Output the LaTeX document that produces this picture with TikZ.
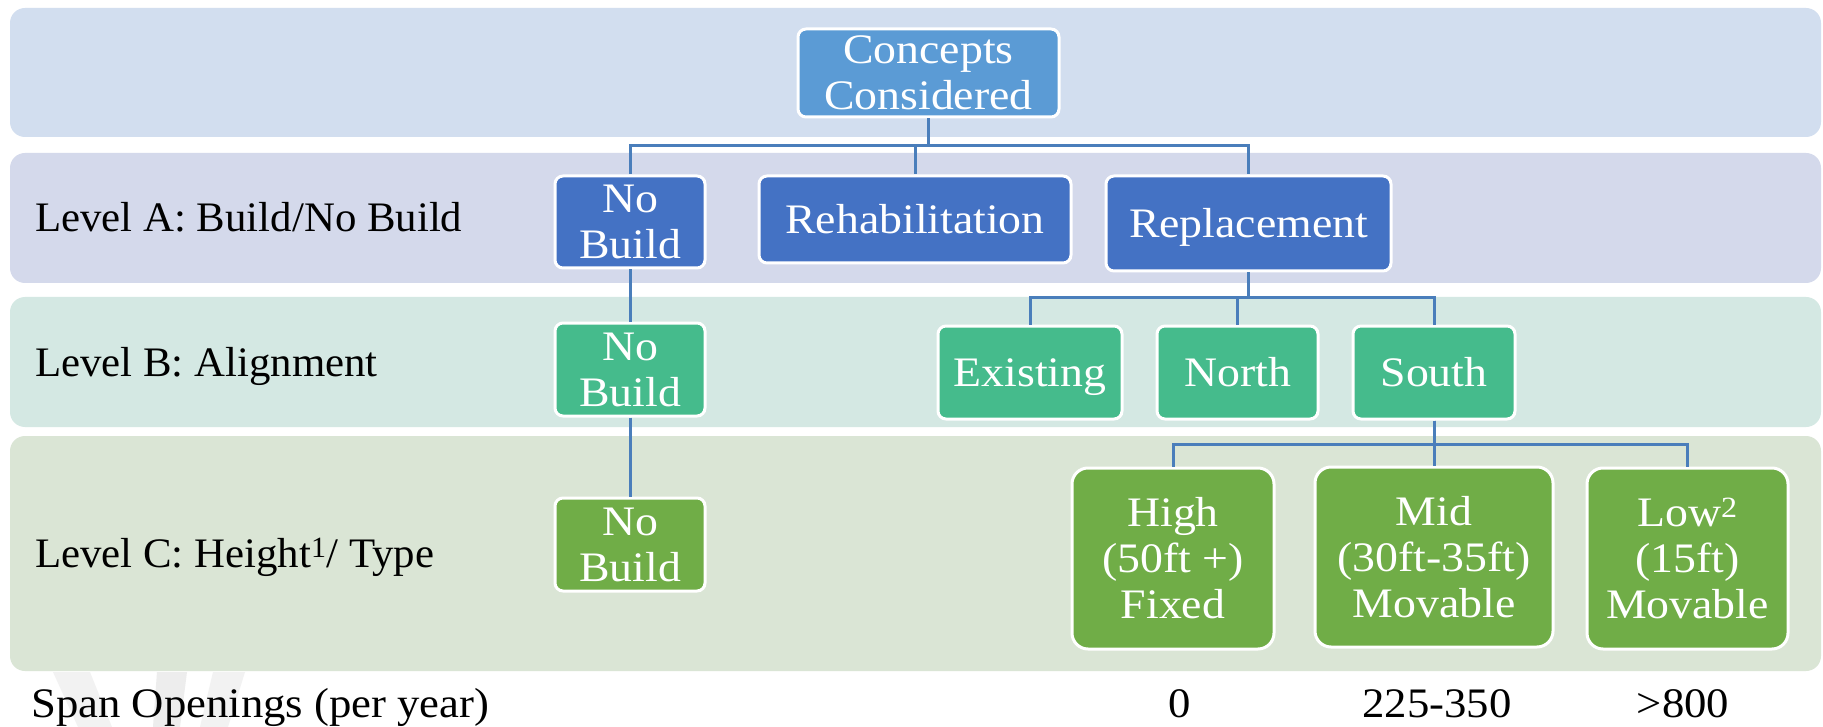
\documentclass[tikz,border=0pt]{standalone}
\usepackage{fontspec}
\setmainfont{Liberation Serif}[FakeStretch=1.09]
\newfontfamily\lvlfont{Liberation Serif}[FakeStretch=1.02]
\newfontfamily\spanfont{Liberation Serif}[FakeStretch=1.065]
\definecolor{bandA}{HTML}{D2DEEF}
\definecolor{bandB}{HTML}{D4D9EB}
\definecolor{bandC}{HTML}{D4E8E3}
\definecolor{bandD}{HTML}{DAE5D5}
\definecolor{topblue}{HTML}{5B9BD5}
\definecolor{lvlA}{HTML}{4472C4}
\definecolor{lvlB}{HTML}{45BB8C}
\definecolor{lvlC}{HTML}{70AD47}
\definecolor{lineblue}{HTML}{4A7EBB}
\newcommand\dfont{\fontsize{42}{46}\selectfont}
\tikzset{
  band/.style={fill=#1, draw=none, rounded corners=15pt},
  box/.style={draw=white, line width=3pt, rounded corners=8pt, text=white,
    align=center, inner sep=0pt, font=\dfont},
  bigbox/.style={box, rounded corners=16pt},
  single/.style={text height=28pt, text depth=0pt},
  conn/.style={draw=lineblue, line width=3pt},
  lbl/.style={font=\dfont\lvlfont, inner sep=0pt, text=black},
  slbl/.style={font=\dfont\spanfont, inner sep=0pt, text=black},
}
\begin{document}
\begin{tikzpicture}[x=1pt,y=-1pt]
\useasboundingbox[fill=white] (0,0) rectangle (1823,727);
% faint watermark
\fill[black!5] (53,672) -- (90,672) -- (112,727) -- (78,727) -- cycle;
\fill[black!7] (157,672) -- (187,672) -- (180,727) -- (153,727) -- cycle;
\fill[black!5] (213,672) -- (245,672) -- (228,727) -- (200,727) -- cycle;
% bands
\path[band=bandA] (10,8) rectangle (1821,137);
\path[band=bandB] (10,153) rectangle (1821,283);
\path[band=bandC] (10,297) rectangle (1821,427);
\path[band=bandD] (10,436) rectangle (1821,671);
% level labels
\node[lbl, anchor=base west] (la) at (35,232) {Level A: Build/No Build};
\node[lbl, anchor=base west] (lb) at (35,376) {Level B: Alignment};
\node[lbl, anchor=base west] (lc) at (35,567) {Level C: Height\textsuperscript{1}/ Type};
\node[slbl, anchor=base west] (ls) at (31,717) {Span Openings (per year)};
\node[slbl, anchor=base] (s0) at (1180,717) {0};
\node[slbl, anchor=base] (s1) at (1437,717) {225-350};
\node[slbl, anchor=base] (s2) at (1683,717) {>800};
% boxes
\node[box, fill=topblue, minimum width=261pt, minimum height=88pt] (concepts) at (928.5,73) {Concepts\\Considered};
\node[box, fill=lvlA, minimum width=150pt, minimum height=92pt] (nbA) at (630,222) {No\\Build};
\node[box, single, fill=lvlA, minimum width=312pt, minimum height=87pt] (rehab) at (915,219.5) {Rehabilitation};
\node[box, single, fill=lvlA, minimum width=285pt, minimum height=95pt] (repl) at (1248.5,223.5) {Replacement};
\node[box, fill=lvlB, minimum width=150pt, minimum height=93pt] (nbB) at (630,369.5) {No\\Build};
\node[box, single, fill=lvlB, minimum width=184pt, minimum height=93pt] (exist) at (1030,372.5) {Existing};
\node[box, single, fill=lvlB, minimum width=161pt, minimum height=93pt] (north) at (1237.5,372.5) {North};
\node[box, single, fill=lvlB, minimum width=162pt, minimum height=93pt] (south) at (1434,372.5) {South};
\node[box, fill=lvlC, minimum width=150pt, minimum height=93pt] (nbC) at (630,544.5) {No\\Build};
\node[bigbox, fill=lvlC, minimum width=202pt, minimum height=181pt] (high) at (1173,558.5) {High\\(50ft +)\\Fixed};
\node[bigbox, fill=lvlC, minimum width=238pt, minimum height=180pt] (mid) at (1434,557) {Mid\\(30ft-35ft)\\Movable};
\node[bigbox, fill=lvlC, minimum width=201pt, minimum height=181pt] (low) at (1687.5,558.5) {Low\textsuperscript{2}\\(15ft)\\Movable};
% connectors
\coordinate (busA) at (0,146);
\coordinate (busB) at (0,298);
\coordinate (busC) at (0,444);
\foreach \c in {nbA,rehab,repl}
  \draw[conn] (concepts.south) -- (concepts.south |- busA) -| (\c.north);
\foreach \c in {exist,north,south}
  \draw[conn] (repl.south) -- (repl.south |- busB) -| (\c.north);
\foreach \c in {high,mid,low}
  \draw[conn] (south.south) -- (south.south |- busC) -| (\c.north);
\draw[conn] (nbA.south) -- (nbB.north);
\draw[conn] (nbB.south) -- (nbC.north);
\end{tikzpicture}
\end{document}
